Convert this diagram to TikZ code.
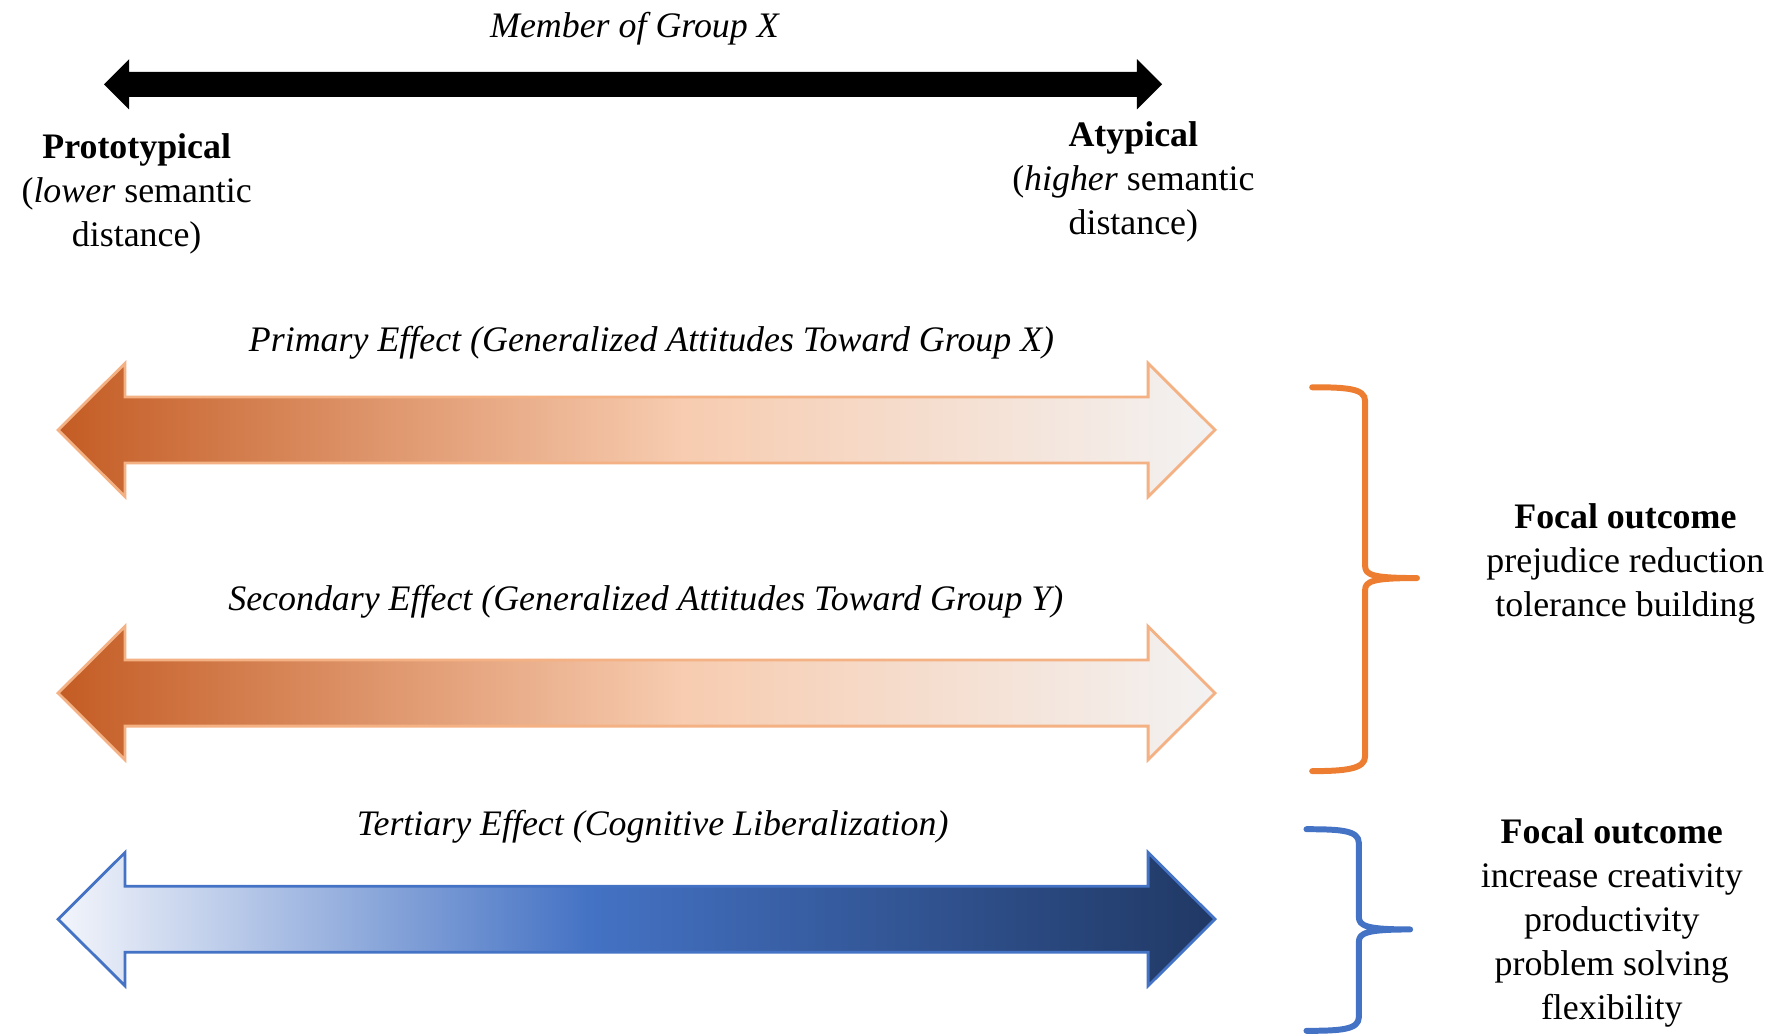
\documentclass[tikz,border=0pt]{standalone}
\usepackage{fontspec}
\setmainfont{Liberation Serif}
\usetikzlibrary{calc}

\definecolor{ordark}{RGB}{196,92,36}
\definecolor{orpeach}{RGB}{247,204,176}
\definecolor{orpale}{RGB}{243,242,242}
\definecolor{oredge}{RGB}{244,177,131}
\definecolor{orbrace}{RGB}{237,125,49}
\definecolor{blpale}{RGB}{243,245,251}
\definecolor{blmid}{RGB}{68,114,196}
\definecolor{bldark}{RGB}{32,56,100}
\definecolor{bledge}{RGB}{68,114,196}

% fades run over the middle 25bp--75bp of the box
\pgfdeclarehorizontalshading{orfade}{100bp}{color(0bp)=(ordark); color(25bp)=(ordark); color(52bp)=(orpeach); color(75bp)=(orpale); color(100bp)=(orpale)}
\pgfdeclarehorizontalshading{blfade}{100bp}{color(0bp)=(blpale); color(25bp)=(blpale); color(48bp)=(blmid); color(75bp)=(bldark); color(100bp)=(bldark)}

\begin{document}
\begin{tikzpicture}[x=0.01139cm, y=-0.01139cm,
lbl/.style={inner sep=0, align=center, font=\fontsize{10.2}{12.5}\selectfont},
brc/.style={line width=1.7pt, line cap=round, line join=round}]
\useasboundingbox (0,0) rectangle (1568,907);

% top scale
\fill (91.3,74) -- (113.3,52) -- (113.3,63) -- (998.2,63) -- (998.2,52) -- (1020.2,74) -- (998.2,96) -- (998.2,85) -- (113.3,85) -- (113.3,96) -- cycle;
\node[lbl] (member) at (557,25) {\itshape Member of Group X};
\node[lbl] (proto) at (120,170) {\textbf{Prototypical}\\(\textit{lower} semantic\\distance)};
\node[lbl] (atyp) at (995,160) {\textbf{Atypical}\\(\textit{higher} semantic\\distance)};

% effect arrows
\foreach \yy/\fade/\edge in {377.5/orfade/oredge, 608.5/orfade/oredge, 807/blfade/bledge}
  \shadedraw[shading=\fade, draw=\edge, line width=0.8pt] (51,\yy) -- (109.7,\yy-58.5) -- (109.7,\yy-29) -- (1008,\yy-29) -- (1008,\yy-58.5) -- (1066.7,\yy) -- (1008,\yy+58.5) -- (1008,\yy+29) -- (109.7,\yy+29) -- (109.7,\yy+58.5) -- cycle;

\node[lbl] (primary) at (572,301) {\itshape Primary Effect (Generalized Attitudes Toward Group X)};
\node[lbl] (secondary) at (567,528) {\itshape Secondary Effect (Generalized Attitudes Toward Group Y)};
\node[lbl] (tertiary) at (573,726) {\itshape Tertiary Effect (Cognitive Liberalization)};

% braces
\draw[brc, orbrace] (1152,340) .. controls (1182,340) and (1198.5,341) .. (1198.5,352) -- (1198.5,497) .. controls (1198.5,505) and (1206,507.5) .. (1244,507.5) .. controls (1206,507.5) and (1198.5,510) .. (1198.5,518) -- (1198.5,664) .. controls (1198.5,675) and (1182,677) .. (1152,677);
\draw[brc, bledge] (1147,728) .. controls (1177,728) and (1193,729) .. (1193,740) -- (1193,805) .. controls (1193,813) and (1200,816) .. (1238,816) .. controls (1200,816) and (1193,819) .. (1193,827) -- (1193,893) .. controls (1193,904) and (1177,905) .. (1147,905);

\node[lbl] (focalA) at (1427,495) {\textbf{Focal outcome}\\prejudice reduction\\tolerance building};
\node[lbl] (focalB) at (1415,810) {\textbf{Focal outcome}\\increase creativity\\productivity\\problem solving\\flexibility};
\end{tikzpicture}
\end{document}
